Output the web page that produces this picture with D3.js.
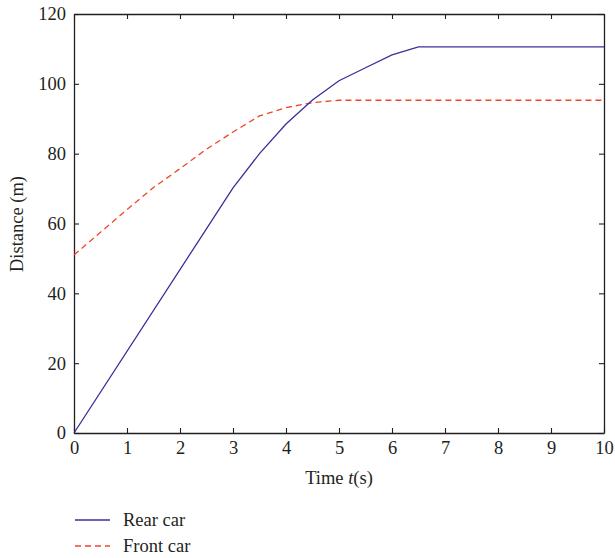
<!DOCTYPE html>
<html>
<head>
<meta charset="utf-8">
<script src="https://cdn.jsdelivr.net/npm/d3@7"></script>
<style>
  body { margin: 0; background: #fff; }
  svg text { font-family: "Liberation Serif", "DejaVu Serif", serif; fill: #231f20; }
</style>
</head>
<body>
<div id="chart"></div>
<script>
// data
var timeRear  = [0, 3, 3.5, 4, 4.5, 5, 5.5, 6, 6.5, 10];
var distRear  = [0, 70.2, 80, 88.5, 95.4, 100.9, 104.6, 108.3, 110.6, 110.6];
var timeFront = [0, 0.5, 1, 1.5, 2, 2.5, 3, 3.5, 4, 4.5, 5, 10];
var distFront = [51, 57.5, 64, 70.3, 75.7, 81.3, 86.2, 90.8, 93.2, 94.6, 95.3, 95.3];
var xTicks = [0, 1, 2, 3, 4, 5, 6, 7, 8, 9, 10];
var yTicks = [0, 20, 40, 60, 80, 100, 120];
var seriesNames = ["Rear car", "Front car"];

const width = 615;
const height = 558;
const serif = '"Liberation Serif", "DejaVu Serif", serif';

var svg = d3.select("#chart").append("svg")
    .attr("width", width)
    .attr("height", height);

var xScale = d3.scaleLinear().domain([0, 10]).range([74, 604]);
var yScale = d3.scaleLinear().domain([0, 120]).range([433, 14]);

var axisColor = "#231f20";

// axes with inward ticks on all four sides
var xAxis = d3.axisBottom(xScale).tickValues(xTicks).tickSizeInner(-5).tickSizeOuter(0).tickPadding(8);
var yAxis = d3.axisLeft(yScale).tickValues(yTicks).tickSizeInner(-5).tickSizeOuter(0).tickPadding(8);
var xTop = d3.axisTop(xScale).tickValues(xTicks).tickSizeInner(-5).tickSizeOuter(0).tickFormat("");
var yRight = d3.axisRight(yScale).tickValues(yTicks).tickSizeInner(-5).tickSizeOuter(0).tickFormat("");

function styleAxis(g) {
    g.attr("font-family", serif);
    g.select(".domain").attr("stroke", axisColor).attr("stroke-width", 1.3);
    g.selectAll(".tick line").attr("stroke", axisColor).attr("stroke-width", 1.1);
    g.selectAll(".tick text")
        .style("font-family", serif)
        .style("font-size", "18.5px")
        .attr("fill", axisColor);
}

svg.append("g").attr("transform", "translate(0,433)").call(xAxis).call(styleAxis);
svg.append("g").attr("transform", "translate(74,0)").call(yAxis).call(styleAxis);
svg.append("g").attr("transform", "translate(0,14)").call(xTop).call(styleAxis);
svg.append("g").attr("transform", "translate(604,0)").call(yRight).call(styleAxis);

// lines
var line = d3.line()
    .x(function(d) { return xScale(d[0]); })
    .y(function(d) { return yScale(d[1]); });

var rear = timeRear.map(function(t, i) { return [t, distRear[i]]; });
var front = timeFront.map(function(t, i) { return [t, distFront[i]]; });

svg.append("path").datum(front)
    .attr("d", line)
    .attr("fill", "none")
    .attr("stroke", "#f0462a")
    .attr("stroke-width", 1.3)
    .attr("stroke-dasharray", "6,4");

svg.append("path").datum(rear)
    .attr("d", line)
    .attr("fill", "none")
    .attr("stroke", "#3b2f98")
    .attr("stroke-width", 1.3);

// axis labels
var xLabel = svg.append("text")
    .attr("x", 339)
    .attr("y", 484)
    .attr("text-anchor", "middle")
    .style("font-size", "18.5px");
xLabel.append("tspan").text("Time ");
xLabel.append("tspan").style("font-style", "italic").text("t");
xLabel.append("tspan").text("(s)");

svg.append("text")
    .attr("transform", "translate(23,224) rotate(-90)")
    .attr("text-anchor", "middle")
    .style("font-size", "18.5px")
    .text("Distance (m)");

// legend
var legend = svg.append("g");
seriesNames.forEach(function(name, i) {
    var y = 520 + i * 26;
    legend.append("line")
        .attr("x1", 75).attr("x2", 110)
        .attr("y1", y).attr("y2", y)
        .attr("stroke", i == 0 ? "#3b2f98" : "#f0462a")
        .attr("stroke-width", 1.3)
        .attr("stroke-dasharray", i == 0 ? null : "6,4");
    legend.append("text")
        .attr("x", 123)
        .attr("y", y + 6)
        .style("font-size", "18.5px")
        .text(name);
});
</script>
</body>
</html>
